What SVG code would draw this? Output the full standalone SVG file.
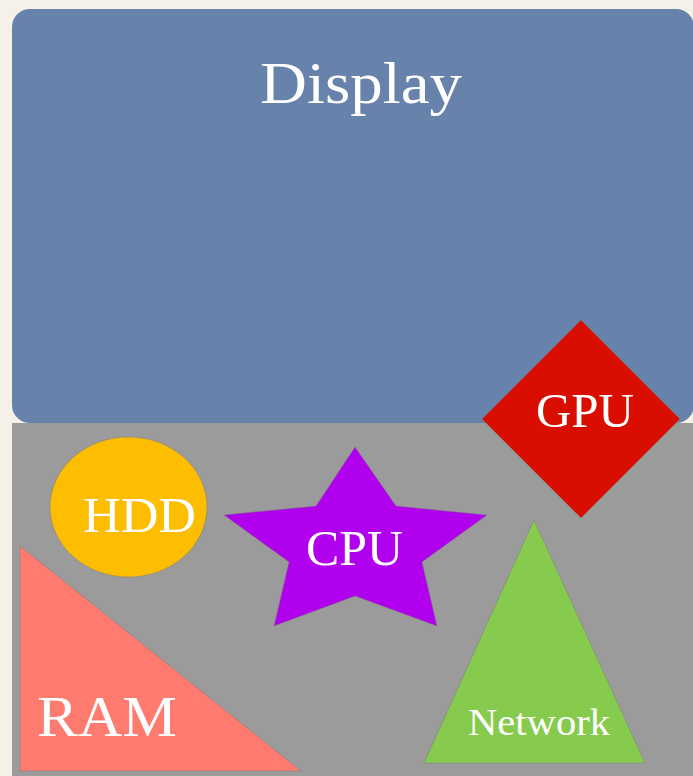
<svg xmlns="http://www.w3.org/2000/svg" width="693" height="776" viewBox="0 0 693 776">
<style>
.shape{stroke:#7a7a7a;stroke-width:0.8;stroke-opacity:0.6}
.lbl{font-family:"Liberation Serif","Times New Roman",serif;fill:#ffffff}
</style>
<rect x="0" y="0" width="693" height="776" fill="#f5f0e8"/>
<g id="display">
<rect x="12" y="9" width="682" height="414" rx="18" ry="18" fill="#6783ab"/>
<text class="lbl" x="260" y="103" font-size="60" textLength="202" lengthAdjust="spacingAndGlyphs">Display</text>
</g>
<g id="board">
<rect x="12" y="423" width="681" height="353" fill="#9b9b9b"/>
</g>
<g id="ram">
<polygon class="shape" points="20,546 301,771 20,771" fill="#ff7b6f"/>
<text class="lbl" x="37" y="736" font-size="57" textLength="140" lengthAdjust="spacingAndGlyphs">RAM</text>
</g>
<g id="hdd">
<ellipse class="shape" cx="128.5" cy="507" rx="78.5" ry="70" fill="#fdbd00"/>
<text class="lbl" x="83" y="532" font-size="50" textLength="113" lengthAdjust="spacingAndGlyphs">HDD</text>
</g>
<g id="cpu">
<polygon class="shape" points="355,447 396,506 487,515 422,562 437,626 355,596 274,626 289,562 224,515 316,506" fill="#b000ee"/>
<text class="lbl" x="306" y="565" font-size="50" textLength="97" lengthAdjust="spacingAndGlyphs">CPU</text>
</g>
<g id="gpu">
<polygon class="shape" points="581,320 680,419 581,518 482,419" fill="#d90e00"/>
<text class="lbl" x="536" y="427" font-size="49" textLength="98" lengthAdjust="spacingAndGlyphs">GPU</text>
</g>
<g id="network">
<polygon class="shape" points="534,520 645,763 424,763" fill="#86cb4d"/>
<text class="lbl" x="468" y="735" font-size="38" textLength="142" lengthAdjust="spacingAndGlyphs">Network</text>
</g>
<g id="connectors"></g>
</svg>
